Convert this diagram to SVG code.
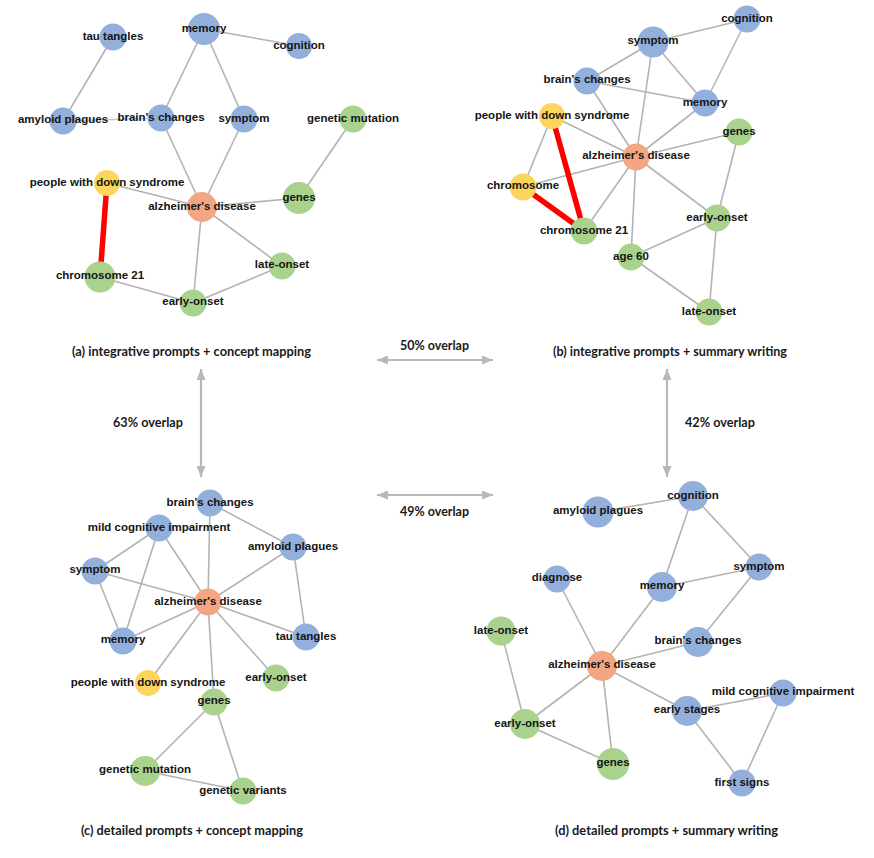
<svg xmlns="http://www.w3.org/2000/svg" width="874" height="858" viewBox="0 0 874 858">
<defs>
<style>
.e{stroke:#b3b3b3;stroke-width:1.6;fill:none}
.r{stroke:#ff0000;stroke-width:5.5;fill:none}
.c{stroke:#a9d3e3;stroke-width:1.6;fill:none}
.b{fill:#93afdc}
.o{fill:#f3a682}
.g{fill:#a9d28d}
.y{fill:#fcd55c}
.t{font-family:"Liberation Sans",Arial,sans-serif;font-weight:bold;font-size:11.5px;fill:#151515;text-anchor:middle}
.cap{font-family:Lato,"Open Sans",sans-serif;font-weight:bold;font-size:13px;fill:#1a1a1a;text-anchor:middle}
.ar{stroke:#b8b8b8;stroke-width:2.2;fill:none;marker-start:url(#ah);marker-end:url(#ah)}
</style>
<marker id="ah" markerUnits="userSpaceOnUse" markerWidth="11" markerHeight="9" refX="11" refY="4.5" orient="auto-start-reverse">
<path d="M0,0 L11,4.5 L0,9 z" fill="#b8b8b8"/>
</marker>
</defs>
<rect width="874" height="858" fill="#ffffff"/>

<g id="connectors">
<!-- panel a -->
<line class="e" x1="113" y1="37" x2="63" y2="121"/>
<line class="e" x1="204" y1="29" x2="299" y2="46"/>
<line class="e" x1="204" y1="29" x2="161" y2="118"/>
<line class="e" x1="204" y1="29" x2="244" y2="119"/>
<line class="c" x1="63" y1="121" x2="161" y2="118"/>
<line class="e" x1="161" y1="118" x2="202" y2="207"/>
<line class="e" x1="244" y1="119" x2="202" y2="207"/>
<line class="e" x1="353" y1="119" x2="299" y2="198"/>
<line class="e" x1="107" y1="183" x2="202" y2="207"/>
<line class="e" x1="202" y1="207" x2="299" y2="198"/>
<line class="e" x1="202" y1="207" x2="193" y2="303"/>
<line class="e" x1="202" y1="207" x2="282" y2="266"/>
<line class="e" x1="282" y1="266" x2="193" y2="303"/>
<line class="e" x1="100" y1="277" x2="193" y2="303"/>
<line class="r" x1="107" y1="183" x2="100" y2="277"/>
<!-- panel b -->
<line class="e" x1="653" y1="42" x2="747" y2="19"/>
<line class="e" x1="747" y1="19" x2="705" y2="103"/>
<line class="e" x1="653" y1="42" x2="587" y2="81"/>
<line class="e" x1="653" y1="42" x2="705" y2="103"/>
<line class="e" x1="653" y1="42" x2="636" y2="157"/>
<line class="e" x1="587" y1="81" x2="705" y2="103"/>
<line class="e" x1="587" y1="81" x2="636" y2="157"/>
<line class="e" x1="705" y1="103" x2="636" y2="157"/>
<line class="e" x1="552" y1="116" x2="636" y2="157"/>
<line class="e" x1="552" y1="116" x2="523" y2="187"/>
<line class="e" x1="523" y1="187" x2="636" y2="157"/>
<line class="e" x1="584" y1="231" x2="636" y2="157"/>
<line class="e" x1="636" y1="157" x2="739" y2="132"/>
<line class="e" x1="636" y1="157" x2="717" y2="218"/>
<line class="e" x1="636" y1="157" x2="631" y2="257"/>
<line class="e" x1="739" y1="132" x2="717" y2="218"/>
<line class="e" x1="717" y1="218" x2="631" y2="257"/>
<line class="e" x1="717" y1="218" x2="709" y2="312"/>
<line class="e" x1="631" y1="257" x2="709" y2="312"/>
<line class="r" x1="552" y1="116" x2="584" y2="231"/>
<line class="r" x1="523" y1="187" x2="584" y2="231"/>
<!-- panel c -->
<line class="e" x1="210" y1="503" x2="293" y2="547"/>
<line class="e" x1="210" y1="503" x2="208" y2="602"/>
<line class="e" x1="159" y1="528" x2="95" y2="571"/>
<line class="e" x1="159" y1="528" x2="123" y2="641"/>
<line class="e" x1="159" y1="528" x2="208" y2="602"/>
<line class="e" x1="95" y1="571" x2="208" y2="602"/>
<line class="e" x1="95" y1="571" x2="123" y2="641"/>
<line class="e" x1="293" y1="547" x2="208" y2="602"/>
<line class="e" x1="293" y1="547" x2="306" y2="637"/>
<line class="e" x1="208" y1="602" x2="123" y2="641"/>
<line class="e" x1="208" y1="602" x2="306" y2="637"/>
<line class="e" x1="208" y1="602" x2="148" y2="683"/>
<line class="e" x1="208" y1="602" x2="214" y2="702"/>
<line class="e" x1="208" y1="602" x2="276" y2="678"/>
<line class="e" x1="214" y1="702" x2="145" y2="771"/>
<line class="e" x1="214" y1="702" x2="243" y2="791"/>
<line class="e" x1="145" y1="771" x2="243" y2="791"/>
<!-- panel d -->
<line class="e" x1="598" y1="512" x2="693" y2="496"/>
<line class="e" x1="693" y1="496" x2="662" y2="587"/>
<line class="e" x1="693" y1="496" x2="759" y2="567"/>
<line class="e" x1="759" y1="567" x2="662" y2="587"/>
<line class="e" x1="759" y1="567" x2="698" y2="642"/>
<line class="e" x1="557" y1="579" x2="602" y2="666"/>
<line class="e" x1="662" y1="587" x2="602" y2="666"/>
<line class="e" x1="698" y1="642" x2="602" y2="666"/>
<line class="e" x1="602" y1="666" x2="687" y2="711"/>
<line class="e" x1="602" y1="666" x2="525" y2="724"/>
<line class="e" x1="602" y1="666" x2="613" y2="764"/>
<line class="e" x1="501" y1="631" x2="525" y2="724"/>
<line class="e" x1="525" y1="724" x2="613" y2="764"/>
<line class="e" x1="687" y1="711" x2="783" y2="693"/>
<line class="e" x1="687" y1="711" x2="742" y2="783"/>
<line class="e" x1="783" y1="693" x2="742" y2="783"/>
<!-- overlap arrows -->
<line class="ar" x1="377" y1="360" x2="493" y2="360"/>
<line class="ar" x1="377" y1="495" x2="493" y2="495"/>
<line class="ar" x1="201" y1="369" x2="201" y2="477"/>
<line class="ar" x1="667" y1="369" x2="667" y2="477"/>
</g>

<!-- panel a nodes -->
<g id="a_tau"><circle class="b" cx="113" cy="37" r="13.5"/><text class="t" x="113" y="40">tau tangles</text></g>
<g id="a_memory"><circle class="b" cx="204" cy="29" r="16"/><text class="t" x="204" y="32">memory</text></g>
<g id="a_cognition"><circle class="b" cx="299" cy="46" r="13"/><text class="t" x="299" y="49">cognition</text></g>
<g id="a_amyloid"><circle class="b" cx="63" cy="121" r="13.5"/><text class="t" x="63" y="123">amyloid plagues</text></g>
<g id="a_brain"><circle class="b" cx="161" cy="118" r="13.5"/><text class="t" x="161" y="121">brain's changes</text></g>
<g id="a_symptom"><circle class="b" cx="244" cy="119" r="13.5"/><text class="t" x="244" y="122">symptom</text></g>
<g id="a_genmut"><circle class="g" cx="353" cy="119" r="13.5"/><text class="t" x="353" y="122">genetic mutation</text></g>
<g id="a_pwds"><circle class="y" cx="107" cy="183" r="13"/><text class="t" x="107" y="186">people with down syndrome</text></g>
<g id="a_alz"><circle class="o" cx="202" cy="207" r="15"/><text class="t" x="202" y="210">alzheimer's disease</text></g>
<g id="a_genes"><circle class="g" cx="299" cy="198" r="16"/><text class="t" x="299" y="201">genes</text></g>
<g id="a_late"><circle class="g" cx="282" cy="266" r="13.5"/><text class="t" x="282" y="268">late-onset</text></g>
<g id="a_chr21"><circle class="g" cx="100" cy="277" r="15.5"/><text class="t" x="100" y="279">chromosome 21</text></g>
<g id="a_early"><circle class="g" cx="193" cy="303" r="13.5"/><text class="t" x="193" y="305">early-onset</text></g>

<!-- panel b nodes -->
<g id="b_cognition"><circle class="b" cx="747" cy="19" r="13.5"/><text class="t" x="747" y="22">cognition</text></g>
<g id="b_symptom"><circle class="b" cx="653" cy="42" r="15.5"/><text class="t" x="653" y="44">symptom</text></g>
<g id="b_brain"><circle class="b" cx="587" cy="81" r="13.5"/><text class="t" x="587" y="83">brain's changes</text></g>
<g id="b_memory"><circle class="b" cx="705" cy="103" r="13.5"/><text class="t" x="705" y="106">memory</text></g>
<g id="b_pwds"><circle class="y" cx="552" cy="116" r="13"/><text class="t" x="552" y="119">people with down syndrome</text></g>
<g id="b_genes"><circle class="g" cx="739" cy="132" r="13.5"/><text class="t" x="739" y="135">genes</text></g>
<g id="b_alz"><circle class="o" cx="636" cy="157" r="13.5"/><text class="t" x="636" y="159">alzheimer's disease</text></g>
<g id="b_chromosome"><circle class="y" cx="523" cy="187" r="13.5"/><text class="t" x="523" y="189">chromosome</text></g>
<g id="b_chr21"><circle class="g" cx="584" cy="231" r="13.5"/><text class="t" x="584" y="234">chromosome 21</text></g>
<g id="b_early"><circle class="g" cx="717" cy="218" r="13.5"/><text class="t" x="717" y="221">early-onset</text></g>
<g id="b_age60"><circle class="g" cx="631" cy="257" r="13.5"/><text class="t" x="631" y="260">age 60</text></g>
<g id="b_late"><circle class="g" cx="709" cy="312" r="13.5"/><text class="t" x="709" y="315">late-onset</text></g>

<!-- panel c nodes -->
<g id="c_brain"><circle class="b" cx="210" cy="503" r="13.5"/><text class="t" x="210" y="506">brain's changes</text></g>
<g id="c_mci"><circle class="b" cx="159" cy="528" r="13.5"/><text class="t" x="159" y="531">mild cognitive impairment</text></g>
<g id="c_amyloid"><circle class="b" cx="293" cy="547" r="13.5"/><text class="t" x="293" y="550">amyloid plagues</text></g>
<g id="c_symptom"><circle class="b" cx="95" cy="571" r="13.5"/><text class="t" x="95" y="573">symptom</text></g>
<g id="c_alz"><circle class="o" cx="208" cy="602" r="13.5"/><text class="t" x="208" y="605">alzheimer's disease</text></g>
<g id="c_memory"><circle class="b" cx="123" cy="641" r="13.5"/><text class="t" x="123" y="643">memory</text></g>
<g id="c_tau"><circle class="b" cx="306" cy="637" r="13.5"/><text class="t" x="306" y="640">tau tangles</text></g>
<g id="c_pwds"><circle class="y" cx="148" cy="683" r="13"/><text class="t" x="148" y="686">people with down syndrome</text></g>
<g id="c_early"><circle class="g" cx="276" cy="678" r="13.5"/><text class="t" x="276" y="681">early-onset</text></g>
<g id="c_genes"><circle class="g" cx="214" cy="702" r="13.5"/><text class="t" x="214" y="704">genes</text></g>
<g id="c_genmut"><circle class="g" cx="145" cy="771" r="15"/><text class="t" x="145" y="773">genetic mutation</text></g>
<g id="c_genvar"><circle class="g" cx="243" cy="791" r="13.5"/><text class="t" x="243" y="794">genetic variants</text></g>

<!-- panel d nodes -->
<g id="d_cognition"><circle class="b" cx="693" cy="496" r="15"/><text class="t" x="693" y="499">cognition</text></g>
<g id="d_amyloid"><circle class="b" cx="598" cy="512" r="15.5"/><text class="t" x="598" y="514">amyloid plagues</text></g>
<g id="d_symptom"><circle class="b" cx="759" cy="567" r="13.5"/><text class="t" x="759" y="570">symptom</text></g>
<g id="d_diagnose"><circle class="b" cx="557" cy="579" r="13.5"/><text class="t" x="557" y="581">diagnose</text></g>
<g id="d_memory"><circle class="b" cx="662" cy="587" r="15"/><text class="t" x="662" y="589">memory</text></g>
<g id="d_late"><circle class="g" cx="501" cy="631" r="14.5"/><text class="t" x="501" y="634">late-onset</text></g>
<g id="d_brain"><circle class="b" cx="698" cy="642" r="15"/><text class="t" x="698" y="644">brain's changes</text></g>
<g id="d_alz"><circle class="o" cx="602" cy="666" r="15"/><text class="t" x="602" y="668">alzheimer's disease</text></g>
<g id="d_mci"><circle class="b" cx="783" cy="693" r="13.5"/><text class="t" x="783" y="695">mild cognitive impairment</text></g>
<g id="d_earlystages"><circle class="b" cx="687" cy="711" r="15"/><text class="t" x="687" y="713">early stages</text></g>
<g id="d_early"><circle class="g" cx="525" cy="724" r="15"/><text class="t" x="525" y="727">early-onset</text></g>
<g id="d_genes"><circle class="g" cx="613" cy="764" r="16"/><text class="t" x="613" y="766">genes</text></g>
<g id="d_firstsigns"><circle class="b" cx="742" cy="783" r="13.5"/><text class="t" x="742" y="786">first signs</text></g>

<!-- captions and overlap labels -->
<g id="captions">
<text class="cap" x="191.5" y="356" textLength="239" lengthAdjust="spacingAndGlyphs">(a) integrative prompts + concept mapping</text>
<text class="cap" x="670" y="356" textLength="234" lengthAdjust="spacingAndGlyphs">(b) integrative prompts + summary writing</text>
<text class="cap" x="192" y="835" textLength="222" lengthAdjust="spacingAndGlyphs">(c) detailed prompts + concept mapping</text>
<text class="cap" x="666.5" y="835" textLength="223" lengthAdjust="spacingAndGlyphs">(d) detailed prompts + summary writing</text>
<text class="cap" x="434.5" y="350" textLength="69" lengthAdjust="spacingAndGlyphs">50% overlap</text>
<text class="cap" x="434.5" y="516" textLength="69" lengthAdjust="spacingAndGlyphs">49% overlap</text>
<text class="cap" x="148" y="427" textLength="70" lengthAdjust="spacingAndGlyphs">63% overlap</text>
<text class="cap" x="720" y="427" textLength="70" lengthAdjust="spacingAndGlyphs">42% overlap</text>
</g>
</svg>
